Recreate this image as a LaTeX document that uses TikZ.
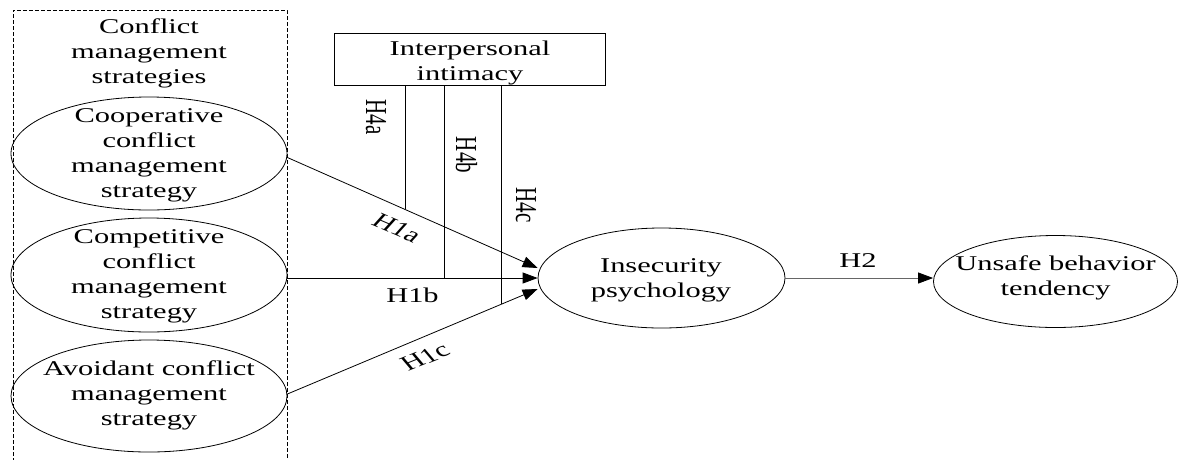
\documentclass[tikz,border=0pt]{standalone}
\usepackage{fontspec}
\setmainfont{Liberation Serif}
\usetikzlibrary{shapes.geometric,arrows.meta,calc}
\newcommand{\mlines}[1]{\begin{tabular}[t]{@{}c@{}}#1\end{tabular}}
\begin{document}
\begin{tikzpicture}[x=1pt,y=-1pt,
  txt/.style={inner sep=0pt, xscale=1.45, font=\fontsize{21}{25}\selectfont, anchor=base},
  hlab/.style={inner sep=0pt, xscale=1.45, font=\fontsize{21}{25}\selectfont},
  oval/.style={draw, ellipse, inner sep=0pt, line width=0.8pt},
  conn/.style={line width=0.8pt},
  arr/.style={conn, -{Triangle[length=15pt,width=11pt,color=black]}},
  groupbox/.style={line width=0.8pt, dash pattern=on 4pt off 2pt},
]
\useasboundingbox (0,0) rectangle (1178,459);

% dashed group frame
\coordinate (gbl) at (13,462);
\coordinate (gtl) at (13,10);
\coordinate (gtr) at (287,10);
\coordinate (gbr) at (287,462);
\draw[groupbox] (gbl) -- (gtl) -- (gtr) -- (gbr);
\node[txt] (gtitle) at (149,33) {\mlines{Conflict\\management\\strategies}};

% strategy ellipses
\node[oval, minimum width=276pt, minimum height=113pt] (e1) at (149,153.5) {};
\node[txt] (e1t) at (149,122) {\mlines{Cooperative\\conflict\\management\\strategy}};
\node[oval, minimum width=276pt, minimum height=114pt] (e2) at (149,275) {};
\node[txt] (e2t) at (149,243) {\mlines{Competitive\\conflict\\management\\strategy}};
\node[oval, minimum width=276pt, minimum height=112pt] (e3) at (149,396) {};
\node[txt] (e3t) at (149,375) {\mlines{Avoidant conflict\\management\\strategy}};

% moderator box
\node[draw, line width=0.8pt, minimum width=271pt, minimum height=52pt, inner sep=0pt] (box) at (469.5,59) {};
\node[txt] (boxt) at (470,55) {\mlines{Interpersonal\\intimacy}};

% mediator and outcome
\node[oval, minimum width=247pt, minimum height=100pt] (ins) at (661.5,278) {};
\node[txt] (inst) at (661,272) {\mlines{Insecurity\\psychology}};
\node[oval, minimum width=244pt, minimum height=92pt] (uns) at (1055.5,281.5) {};
\node[txt] (unst) at (1055.5,270) {\mlines{Unsafe behavior\\tendency}};

% connector end points
\coordinate (s1) at ($(e1.east)+(0,4)$);
\coordinate (s2) at ($(e2.east)+(0,3)$);
\coordinate (s3) at ($(e3.east)+(0,-2)$);
\coordinate (t1) at ($(ins.west)+(0,-10)$);
\coordinate (t2) at (ins.west);
\coordinate (t3) at ($(ins.west)+(0,11)$);
\coordinate (f1) at ($(s1)!0.470!(t1)$);
\coordinate (f2) at ($(s2)!0.6255!(t2)$);
\coordinate (f3) at ($(s3)!0.8566!(t3)$);

% main paths
\draw[arr] (s1) -- (t1);
\draw[arr] (s2) -- (t2);
\draw[arr] (s3) -- (t3);
\draw[arr, draw=black!60] (ins.east) -- (ins.east -| uns.west);

% moderation lines
\draw[conn] (box.south -| f1) -- (f1);
\draw[conn] (box.south -| f2) -- (f2);
\draw[conn] (box.south -| f3) -- (f3);

% labels
\node[hlab, rotate=-31.8] (h1a) at (397,228) {H1a};
\node[txt] (h1b) at (412.5,302) {H1b};
\node[hlab, rotate=30.3] (h1c) at (425,357) {H1c};
\node[txt] (h2) at (858,267) {H2};
\node[hlab, rotate=-90] (h4a) at (376,117) {H4a};
\node[hlab, rotate=-90] (h4b) at (466.5,155) {H4b};
\node[hlab, rotate=-90] (h4c) at (526,205) {H4c};
\end{tikzpicture}
\end{document}
